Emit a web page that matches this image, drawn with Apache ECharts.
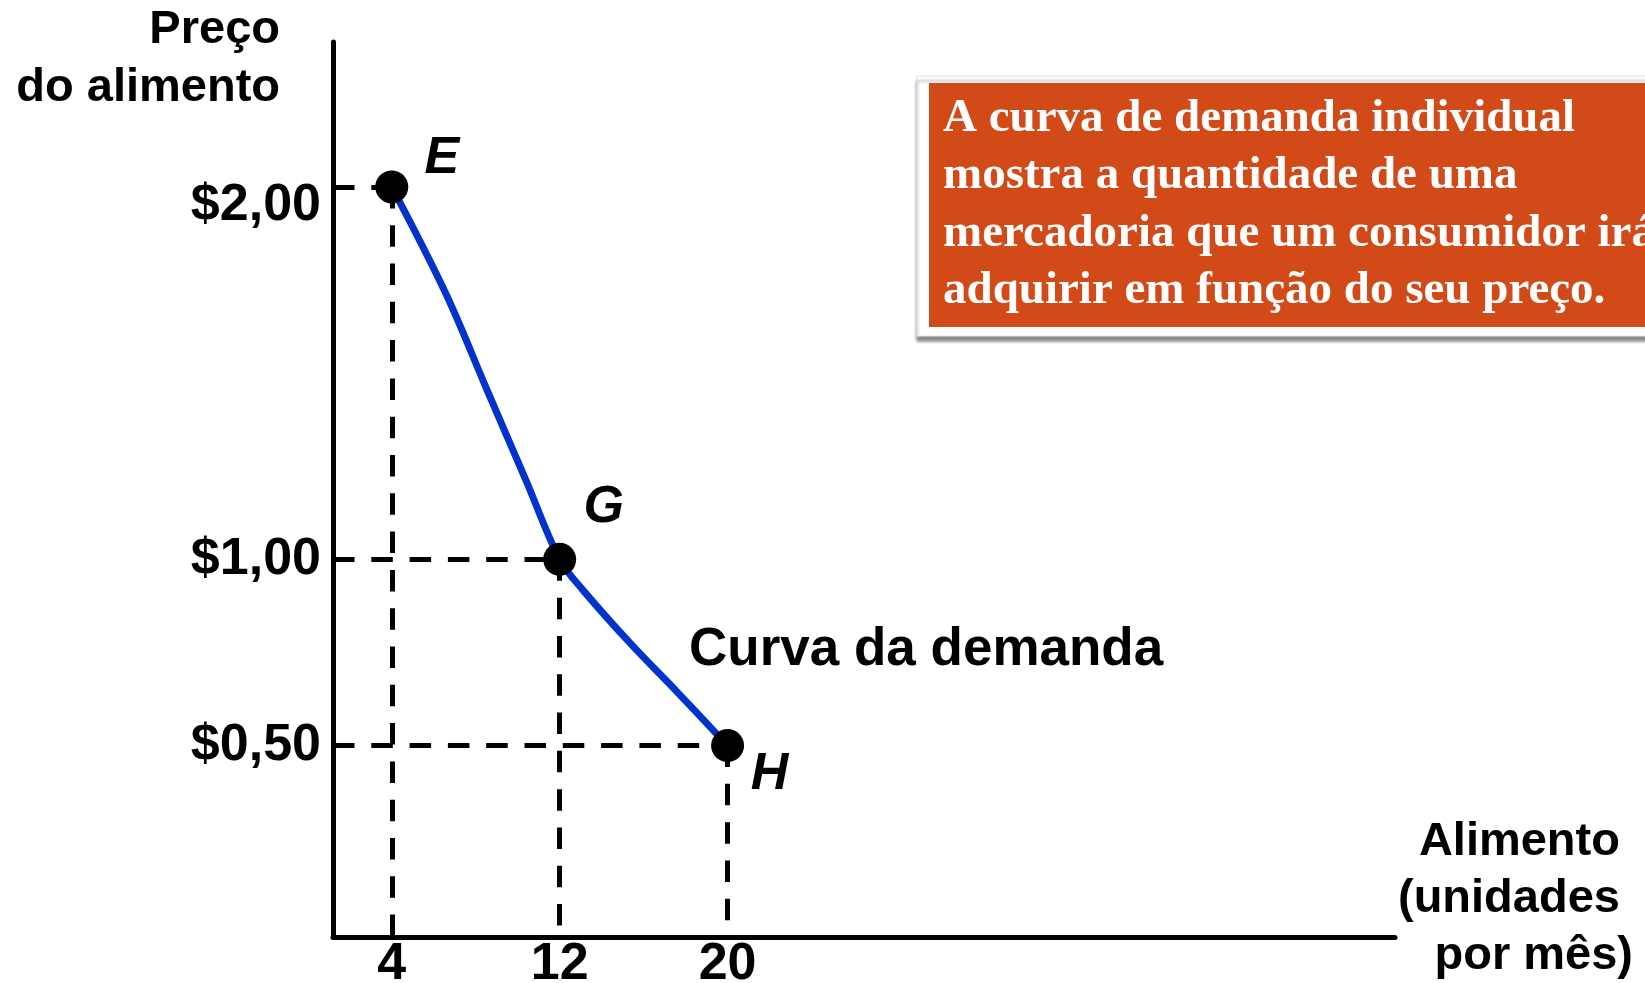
<!DOCTYPE html>
<html>
<head>
<meta charset="utf-8">
<title>Curva de demanda individual</title>
<script src="https://cdn.jsdelivr.net/npm/echarts@6/dist/echarts.min.js"></script>
<style>
  html, body { margin: 0; padding: 0; background: #ffffff; }
  #chart { width: 1645px; height: 983px; }
</style>
</head>
<body>
<div id="chart"></div>
<script>
// Points on the individual demand curve (quantity per month, price)
const pointNames = ['E', 'G', 'H'];
const pointQty = [4, 12, 20];
const pointPrice = [2.0, 1.0, 0.5];

// Demand curve traced through E, G and H
const curveQty = [4, 6.58, 8.53, 10.38, 12, 13.10, 15.47, 17.58, 20];
const curvePrice = [2.0, 1.713, 1.456, 1.214, 1.0, 0.918, 0.768, 0.645, 0.5];

// Axis tick values and their labels
const qtyTicks = [4, 12, 20];
const qtyTickLabels = ['4', '12', '20'];
const priceTicks = [0.5, 1, 2];
const priceTickLabels = ['$0,50', '$1,00', '$2,00'];

// Label offsets of the point letters, relative to each dot
const letterOffsets = [[50, -28], [44, -52], [42, 29]];

const SANS = '"Liberation Sans", Arial, Helvetica, sans-serif';
const SERIF = '"Liberation Serif", "Times New Roman", serif';

const X_MIN = 1.2, X_MAX = 51.8;
const Y_MIN = -0.014, Y_MAX = 2.389;

const dashStyle = { color: '#000', width: 5, type: [21.5, 16.8], cap: 'butt' };

// Guide lines: horizontal from the price axis, vertical down to the quantity axis
const guideLines = [];
pointQty.forEach(function (q, i) {
  const p = pointPrice[i];
  guideLines.push([{ coord: [X_MIN, p] }, { coord: [q, p] }]);
  guideLines.push([{ coord: [q, p] }, { coord: [q, Y_MIN] }]);
});

const chart = echarts.init(document.getElementById('chart'), null, { renderer: 'canvas' });

chart.setOption({
  animation: false,
  backgroundColor: '#ffffff',
  grid: { left: 333, right: 250, top: 42, bottom: 46, containLabel: false, outerBoundsMode: 'none' },
  xAxis: {
    type: 'value',
    min: X_MIN,
    max: X_MAX,
    splitLine: { show: false },
    axisTick: { show: false },
    axisLine: { show: true, onZero: false, lineStyle: { color: '#000', width: 5 } },
    axisLabel: {
      show: true,
      customValues: qtyTicks,
      margin: 2,
      color: '#000',
      fontFamily: SANS,
      fontWeight: 'bold',
      fontSize: 52,
      formatter: function (v) {
        const i = qtyTicks.indexOf(v);
        return i >= 0 ? qtyTickLabels[i] : '';
      }
    },
    name: 'Alimento \n(unidades \npor mês)\n{gap| }',
    nameLocation: 'end',
    nameGap: 238,
    nameTextStyle: {
      color: '#000',
      fontFamily: SANS,
      fontWeight: 'bold',
      fontSize: 47,
      lineHeight: 57,
      align: 'right',
      verticalAlign: 'middle',
      rich: {
        gap: { fontSize: 10, lineHeight: 76 }
      }
    }
  },
  yAxis: {
    type: 'value',
    min: Y_MIN,
    max: Y_MAX,
    splitLine: { show: false },
    axisTick: { show: false },
    axisLine: { show: true, onZero: false, lineStyle: { color: '#000', width: 5 } },
    axisLabel: {
      show: true,
      customValues: priceTicks,
      margin: 12,
      color: '#000',
      fontFamily: SANS,
      fontWeight: 'bold',
      fontSize: 52,
      formatter: function (v) {
        const i = priceTicks.indexOf(v);
        if (i < 0) return '';
        return v === 2 ? '{low|' + priceTickLabels[i] + '}' : priceTickLabels[i];
      },
      rich: {
        low: {
          color: '#000',
          fontFamily: SANS,
          fontWeight: 'bold',
          fontSize: 52,
          padding: [38, 0, 0, 0]
        }
      }
    },
    name: 'Preço\ndo alimento',
    nameLocation: 'end',
    nameGap: -17,
    nameTextStyle: {
      color: '#000',
      fontFamily: SANS,
      fontWeight: 'bold',
      fontSize: 47,
      lineHeight: 58,
      align: 'right',
      verticalAlign: 'middle',
      padding: [0, 53, 0, 0]
    }
  },
  series: [
    {
      name: 'Curva da demanda',
      type: 'line',
      data: curveQty.map(function (q, i) { return [q, curvePrice[i]]; }),
      smooth: 0.35,
      showSymbol: false,
      silent: true,
      z: 3,
      lineStyle: { color: '#0033cc', width: 7, cap: 'round', join: 'round' },
      markLine: {
        silent: true,
        symbol: ['none', 'none'],
        label: { show: false },
        lineStyle: dashStyle,
        emphasis: { disabled: true },
        data: guideLines,
        z: 2
      }
    },
    {
      name: 'Pontos',
      type: 'scatter',
      z: 5,
      silent: true,
      symbol: 'circle',
      symbolSize: 33,
      itemStyle: { color: '#000', opacity: 1 },
      label: {
        show: true,
        position: 'inside',
        formatter: '{b}',
        color: '#000',
        fontFamily: SANS,
        fontWeight: 'bold',
        fontStyle: 'italic',
        fontSize: 52
      },
      data: pointNames.map(function (n, i) {
        return {
          name: n,
          value: [pointQty[i], pointPrice[i]],
          label: { offset: letterOffsets[i] }
        };
      })
    }
  ],
  graphic: [
    {
      type: 'text',
      left: 689,
      top: 624,
      z: 10,
      style: {
        text: 'Curva da demanda',
        fill: '#000',
        font: 'bold 53px ' + SANS
      }
    },
    {
      type: 'rect',
      z: 20,
      shape: { x: 917, y: 76, width: 800, height: 260 },
      style: {
        fill: '#ffffff',
        stroke: '#e2e2e2',
        lineWidth: 1,
        shadowColor: 'rgba(0,0,0,0.45)',
        shadowBlur: 3,
        shadowOffsetX: 0,
        shadowOffsetY: 5
      }
    },
    {
      type: 'rect',
      z: 21,
      shape: { x: 929, y: 83, width: 800, height: 244 },
      style: { fill: '#d24a18' }
    },
    {
      type: 'text',
      z: 22,
      x: 943,
      y: 90,
      style: {
        text: 'A curva de demanda individual\nmostra a quantidade de uma\nmercadoria que um consumidor irá\nadquirir em função do seu preço.',
        fill: '#ffffff',
        font: 'bold 47px ' + SERIF,
        lineHeight: 57.5,
        verticalAlign: 'top',
        align: 'left'
      }
    }
  ]
});
</script>
</body>
</html>
